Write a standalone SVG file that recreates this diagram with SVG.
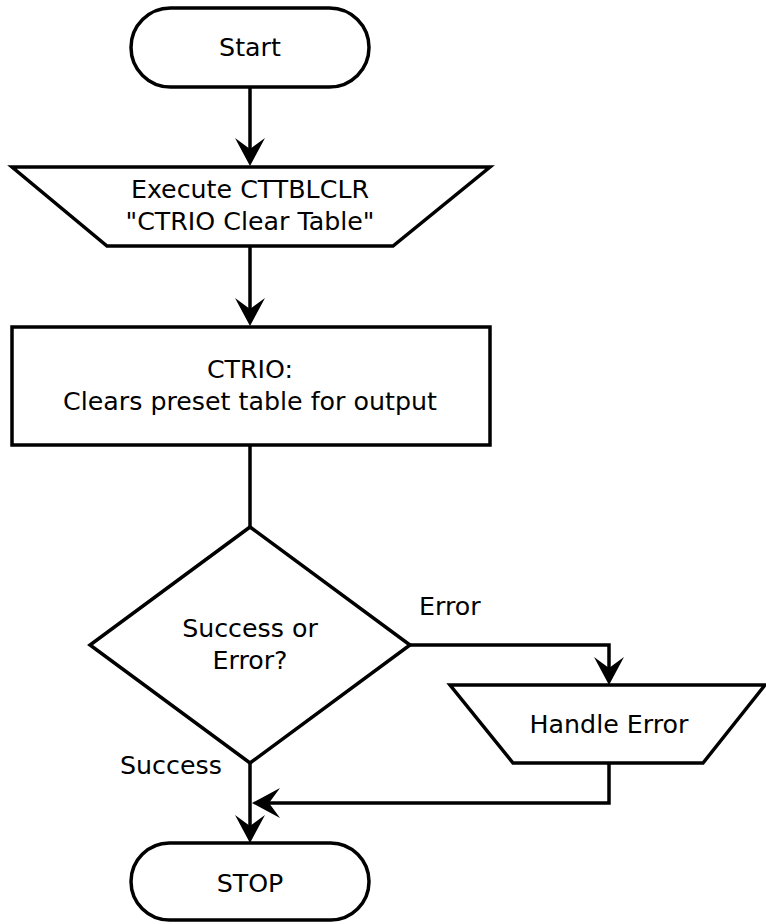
<svg xmlns="http://www.w3.org/2000/svg" width="766" height="924" viewBox="0 0 766 924">
  <style>
    .shape { fill: #ffffff; stroke: #000000; stroke-width: 3.5; stroke-linejoin: miter; }
    .label { font-family: "DejaVu Sans", sans-serif; font-size: 25.3px; fill: #000000; text-anchor: middle; }
    .edge-label { font-family: "DejaVu Sans", sans-serif; font-size: 25.3px; fill: #000000; }
    .edge { fill: none; stroke: #000000; stroke-width: 3.5; }
  </style>
  <defs>
    <marker id="arrow" markerUnits="userSpaceOnUse" markerWidth="30" markerHeight="30" refX="11" refY="15" orient="auto" overflow="visible">
      <path d="M0,0 L28,15 L0,30 L11,15 Z" fill="#000000"/>
    </marker>
  </defs>
  <rect width="766" height="924" fill="#ffffff"/>

  <g id="connectors">
    <path class="edge" d="M250,88 L250,149" marker-end="url(#arrow)"/>
    <path class="edge" d="M250,247 L250,309" marker-end="url(#arrow)"/>
    <path class="edge" d="M250,445 L250,527"/>
    <path class="edge" d="M410,645 L609,645 L609,668" marker-end="url(#arrow)"/>
    <path class="edge" d="M609,763 L609,803 L269,803" marker-end="url(#arrow)"/>
    <path class="edge" d="M250,763 L250,826" marker-end="url(#arrow)"/>
    <text class="edge-label" x="419" y="615">Error</text>
    <text class="edge-label" x="120" y="774">Success</text>
  </g>

  <g id="start">
    <rect class="shape" x="131" y="8" width="238" height="79" rx="39.5" ry="39.5"/>
    <text class="label" x="250" y="56">Start</text>
  </g>

  <g id="execute">
    <polygon class="shape" points="12,167 490,167 393,246 107,246"/>
    <text class="label" x="250" y="198">Execute CTTBLCLR</text>
    <text class="label" x="250" y="230">"CTRIO Clear Table"</text>
  </g>

  <g id="ctrio">
    <rect class="shape" x="12" y="327" width="478" height="118"/>
    <text class="label" x="250" y="378">CTRIO:</text>
    <text class="label" x="250" y="410">Clears preset table for output</text>
  </g>

  <g id="decision">
    <polygon class="shape" points="250,527 410,645 250,763 90,645"/>
    <text class="label" x="250" y="637">Success or</text>
    <text class="label" x="250" y="669">Error?</text>
  </g>

  <g id="handle-error">
    <polygon class="shape" points="450,685 765,685 703,763 513,763"/>
    <text class="label" x="609" y="733">Handle Error</text>
  </g>

  <g id="stop">
    <rect class="shape" x="131" y="843" width="238" height="77" rx="38.5" ry="38.5"/>
    <text class="label" x="250" y="892">STOP</text>
  </g>
</svg>
